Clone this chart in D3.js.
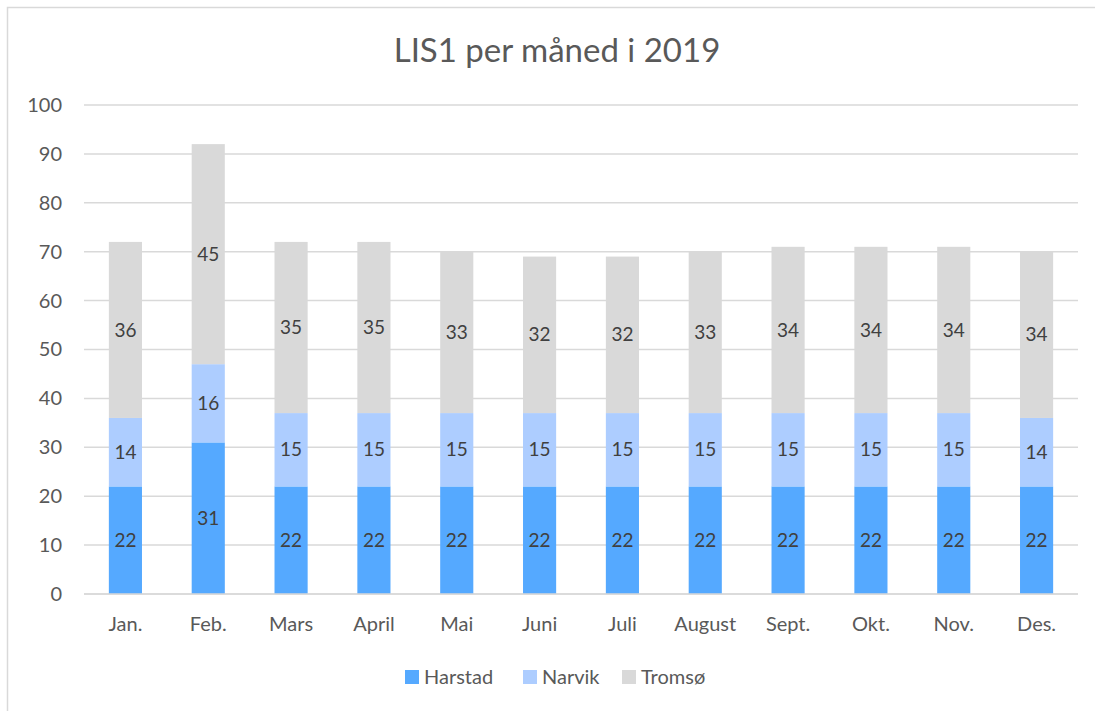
<!DOCTYPE html>
<html>
<head>
<meta charset="utf-8">
<script src="https://cdn.jsdelivr.net/npm/d3@7"></script>
<style>
    body { margin: 0; background: #fff; }
    text { font-family: Lato, "Open Sans", sans-serif; }
</style>
</head>
<body>
<script>
// Chart data
var months = ["Jan.", "Feb.", "Mars", "April", "Mai", "Juni", "Juli",
    "August", "Sept.", "Okt.", "Nov.", "Des."];
var harstad = [22, 31, 22, 22, 22, 22, 22, 22, 22, 22, 22, 22];
var narvik = [14, 16, 15, 15, 15, 15, 15, 15, 15, 15, 15, 14];
var tromso = [36, 45, 35, 35, 33, 32, 32, 33, 34, 34, 34, 34];
var seriesNames = ["Harstad", "Narvik", "Tromsø"];
var yTicks = [0, 10, 20, 30, 40, 50, 60, 70, 80, 90, 100];

var colors = ["#55a9ff", "#adcdff", "#d9d9d9"];

var W = 1095, H = 711;
var margin = {top: 105, right: 17, bottom: 117, left: 84};
var width = W - margin.left - margin.right,
    height = H - margin.top - margin.bottom;

var svg = d3.select("body").append("svg")
    .attr("width", W)
    .attr("height", H);

// outer chart border
svg.append("rect")
    .attr("x", 7.5).attr("y", 7.5)
    .attr("width", W + 20).attr("height", H + 20)
    .attr("fill", "#fff")
    .attr("stroke", "#d9d9d9")
    .attr("stroke-width", 1.5);

svg.append("text")
    .attr("x", 557).attr("y", 62)
    .attr("text-anchor", "middle")
    .attr("fill", "#595959")
    .style("font-size", "33px")
    .text("LIS1 per måned i 2019");

var g = svg.append("g")
    .attr("transform", "translate(" + margin.left + "," + margin.top + ")");

var x = d3.scaleBand().domain(months).range([0, width])
    .paddingInner(0.6).paddingOuter(0.3);
var y = d3.scaleLinear().domain([0, 100]).range([height, 0]);

// gridlines
g.selectAll(".grid")
    .data(yTicks)
    .enter().append("line")
    .attr("x1", 0).attr("x2", width)
    .attr("y1", function(d) { return y(d); })
    .attr("y2", function(d) { return y(d); })
    .attr("stroke", "#d9d9d9")
    .attr("stroke-width", 1.5);

// y axis labels
var yAxis = d3.axisLeft(y).tickValues(yTicks).tickSize(0).tickPadding(22);
g.append("g").call(yAxis)
    .call(function(a) { a.select(".domain").remove(); })
    .selectAll("text")
    .attr("fill", "#595959")
    .style("font-size", "20px");

// stack data
var rows = months.map(function(m, i) {
    return {month: m, Harstad: harstad[i], Narvik: narvik[i], "Tromsø": tromso[i]};
});
var stacked = d3.stack().keys(seriesNames)(rows);

var layers = g.selectAll(".layer")
    .data(stacked)
    .enter().append("g")
    .attr("fill", function(d, i) { return colors[i]; });

layers.selectAll("rect")
    .data(function(d) { return d; })
    .enter().append("rect")
    .attr("x", function(d) { return x(d.data.month); })
    .attr("width", x.bandwidth())
    .attr("y", function(d) { return y(d[1]); })
    .attr("height", function(d) { return y(d[0]) - y(d[1]); });

// data labels
layers.selectAll(".lbl")
    .data(function(d) { return d; })
    .enter().append("text")
    .attr("x", function(d) { return x(d.data.month) + x.bandwidth() / 2; })
    .attr("y", function(d) { return (y(d[0]) + y(d[1])) / 2; })
    .attr("dy", "0.35em")
    .attr("text-anchor", "middle")
    .attr("fill", "#404040")
    .style("font-size", "19px")
    .text(function(d) { return d[1] - d[0]; });

// x axis baseline and labels
g.append("line")
    .attr("x1", 0).attr("x2", width)
    .attr("y1", height).attr("y2", height)
    .attr("stroke", "#d9d9d9")
    .attr("stroke-width", 1.5);

var xAxis = d3.axisBottom(x).tickSize(0).tickPadding(23);
g.append("g")
    .attr("transform", "translate(0," + height + ")")
    .call(xAxis)
    .call(function(a) { a.select(".domain").remove(); })
    .selectAll("text")
    .attr("fill", "#595959")
    .style("font-size", "20px");

// legend
var legendX = [405, 523, 622];
var legend = svg.selectAll(".legend")
    .data(seriesNames)
    .enter().append("g")
    .attr("transform", function(d, i) {
        return "translate(" + legendX[i] + ",670)";
    });
legend.append("rect")
    .attr("x", 0).attr("y", 0)
    .attr("width", 14).attr("height", 14)
    .attr("fill", function(d, i) { return colors[i]; });
legend.append("text")
    .attr("x", 19).attr("y", 7)
    .attr("dy", "0.35em")
    .attr("fill", "#595959")
    .style("font-size", "20px")
    .text(function(d) { return d; });
</script>
</body>
</html>
